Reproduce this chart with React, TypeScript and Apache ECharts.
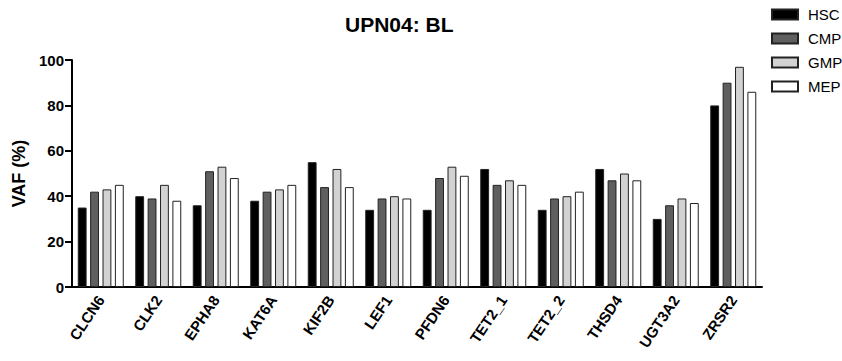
import React, { useEffect, useRef } from "react";
import * as echarts from "echarts";

const categories = ["CLCN6", "CLK2", "EPHA8", "KAT6A", "KIF2B", "LEF1", "PFDN6", "TET2_1", "TET2_2", "THSD4", "UGT3A2", "ZRSR2"];
const hsc = [35, 40, 36, 38, 55, 34, 34, 52, 34, 52, 30, 80];
const cmp = [42, 39, 51, 42, 44, 39, 48, 45, 39, 47, 36, 90];
const gmp = [43, 45, 53, 43, 52, 40, 53, 47, 40, 50, 39, 97];
const mep = [45, 38, 48, 45, 44, 39, 49, 45, 42, 47, 37, 86];
const seriesNames = ["HSC", "CMP", "GMP", "MEP"];
const seriesColors = ["#000000", "#5f5f5f", "#d2d2d2", "#ffffff"];
const yTicks = [0, 20, 40, 60, 80, 100];

const FONT = "Liberation Sans, Arial, sans-serif";

export default function App() {
  const ref = useRef<HTMLDivElement>(null);
  useEffect(() => {
    if (!ref.current) return;
    document.body.style.margin = "0";
    const chart = echarts.init(ref.current, undefined, { renderer: "svg" });
    const data = [hsc, cmp, gmp, mep];
    chart.setOption({
      animation: false,
      backgroundColor: "#ffffff",
      textStyle: { fontFamily: FONT },
      title: {
        text: "UPN04: BL",
        left: 340,
        top: 9,
        textStyle: { fontFamily: FONT, fontSize: 21, fontWeight: "bold", color: "#000" },
      },
      legend: {
        orient: "vertical",
        left: 766,
        top: 2,
        itemWidth: 26,
        itemHeight: 10,
        itemGap: 9,
        icon: "rect",
        data: seriesNames,
        textStyle: { fontFamily: FONT, fontSize: 15, color: "#000", padding: [0, 0, 0, 5] },
      },
      grid: { left: 72, right: 80, top: 60, bottom: 74, containLabel: false },
      xAxis: {
        type: "category",
        data: categories,
        axisLine: { lineStyle: { color: "#000", width: 2 } },
        axisTick: { alignWithLabel: true, length: 6, lineStyle: { color: "#000", width: 2 } },
        axisLabel: {
          rotate: 56,
          margin: 10,
          fontFamily: FONT,
          fontSize: 15,
          fontWeight: "bold",
          color: "#000",
          interval: 0,
        },
      },
      yAxis: {
        type: "value",
        min: yTicks[0],
        max: yTicks[yTicks.length - 1],
        interval: 20,
        name: "VAF (%)",
        nameLocation: "middle",
        nameGap: 44,
        nameTextStyle: { fontFamily: FONT, fontSize: 18, fontWeight: "bold", color: "#000" },
        splitLine: { show: false },
        axisLine: { show: true, lineStyle: { color: "#000", width: 2 } },
        axisTick: { show: true, length: 7, lineStyle: { color: "#000", width: 2 } },
        axisLabel: { fontFamily: FONT, fontSize: 15, fontWeight: "bold", color: "#000", margin: 8 },
      },
      series: seriesNames.map((name, i) => ({
        name,
        type: "bar",
        data: data[i],
        barGap: "40%",
        barCategoryGap: "20%",
        itemStyle: { color: seriesColors[i], borderColor: "#222", borderWidth: 1 },
      })),
    });
    return () => chart.dispose();
  }, []);
  return <div ref={ref} style={{ width: 842, height: 361 }} />;
}
